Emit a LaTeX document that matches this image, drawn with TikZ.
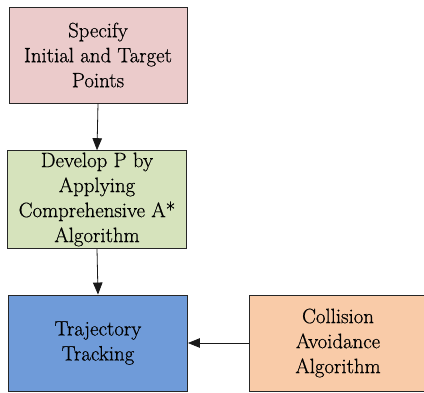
\documentclass[tikz,border=0pt]{standalone}
\usepackage{fontspec}
\newfontfamily\boxfont{lmroman17-regular.otf}[FakeBold=0.6]
\usetikzlibrary{arrows.meta}
\definecolor{pinkbox}{HTML}{EBCBCB}
\definecolor{greenbox}{HTML}{D6E3BC}
\definecolor{bluebox}{HTML}{6F9BD9}
\definecolor{orangebox}{HTML}{F9CBA8}
\tikzset{
  flowbox/.style={draw=black!85, line width=0.9pt, rectangle, align=center,
    minimum height=96pt, inner sep=2pt,
    font=\boxfont\fontsize{20.8}{25}\selectfont},
  flowarrow/.style={draw=black!90, line width=0.8pt, -{Triangle[length=12pt,width=9.5pt]}}
}
\begin{document}
\begin{tikzpicture}[x=1pt,y=-1pt]
\useasboundingbox (0,0) rectangle (424,392);
\node[flowbox, fill=pinkbox, minimum width=178pt] (spec) at (98,55) {Specify\\Initial and Target\\Points};
\node[flowbox, fill=greenbox, minimum width=178.5pt, minimum height=95pt] (dev) at (97,199.5) {Develop P by\\Applying\\Comprehensive A*\\Algorithm};
\node[flowbox, fill=bluebox, minimum width=179pt] (traj) at (98,343) {Trajectory\\Tracking};
\node[flowbox, fill=orangebox, minimum width=177pt] (coll) at (338,343) {Collision\\Avoidance\\Algorithm};
\draw[flowarrow] (spec.south) -- (dev.north);
\draw[flowarrow] (dev.south) -- (traj.north);
\draw[flowarrow] (coll.west) -- (traj.east);
\end{tikzpicture}
\end{document}
